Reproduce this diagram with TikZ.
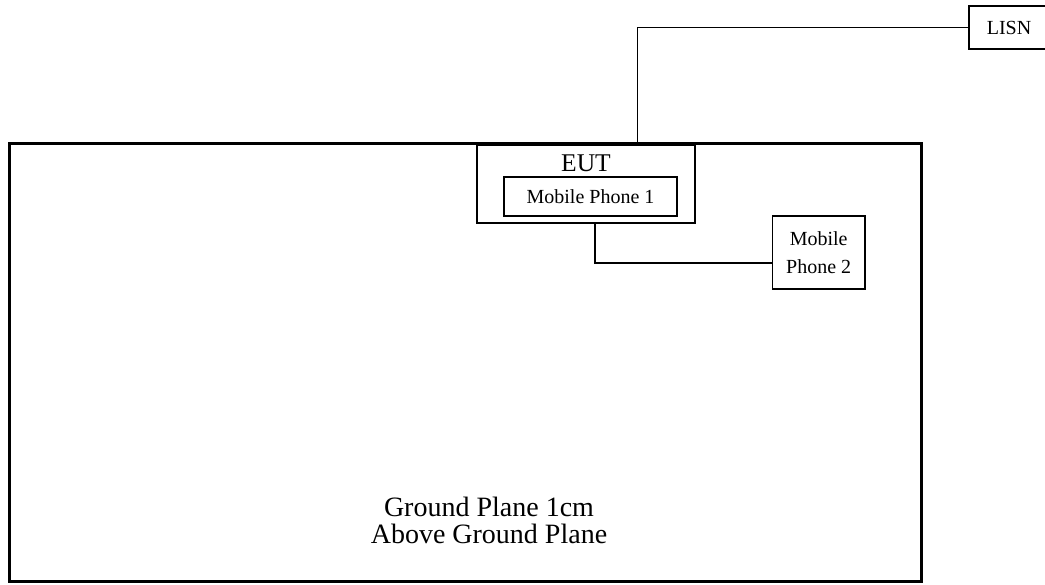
\documentclass[tikz,border=0pt]{standalone}
\usepackage{fontspec}
\setmainfont{Liberation Serif}
\begin{document}
\begin{tikzpicture}[x=1pt,y=-1pt,
  box/.style={draw,line width=1.3pt,inner sep=0pt,font=\fontsize{20}{28}\selectfont,align=center},
  wire/.style={line width=1.6pt},
  plane/.style={draw,line width=3pt,inner sep=0pt}]
\useasboundingbox (0,0) rectangle (1045,585);
\node[plane,minimum width=912pt,minimum height=437pt] (ground) at (465,362.5) {};
\node[inner sep=0pt,align=center,font=\fontsize{28}{27}\selectfont] (gtext) at (489,520) {Ground Plane 1cm\\Above Ground Plane};
\node[box,minimum width=218pt,minimum height=78pt] (eut) at (586,184) {};
\node[inner sep=0pt,anchor=base,font=\fontsize{25.5}{30}\selectfont] (euttext) at (586,172) {EUT};
\node[box,minimum width=173pt,minimum height=39pt] (mp1) at (590.5,196.5) {Mobile Phone 1};
\node[box,minimum width=92.5pt,minimum height=73pt] (mp2) at (818.7,252.5) {Mobile\\Phone 2};
\node[box,minimum width=80pt,minimum height=43pt] (lisn) at (1009,27.5) {LISN};
\coordinate (j1) at (594.7,263);
\coordinate (j2) at (637.6,27.5);
\draw[wire] (eut.south -| j1) |- (mp2.west |- j1);
\draw[wire] (ground.north -| j2) -- (j2) -- (lisn.west);
\end{tikzpicture}
\end{document}
